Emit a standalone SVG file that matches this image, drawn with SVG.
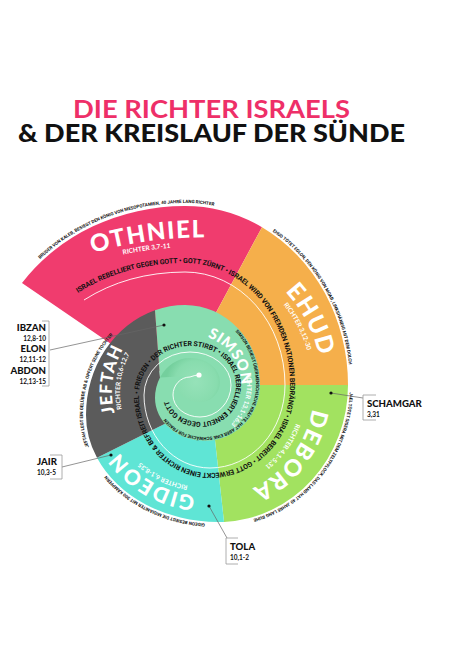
<svg xmlns="http://www.w3.org/2000/svg" width="450" height="650" viewBox="0 0 450 650">
<defs>
<style>
.ring{font-family:Roboto,'Liberation Sans',sans-serif;font-weight:700;font-size:7px;fill:#111;letter-spacing:-0.1px}
.desc{font-family:Roboto,'Liberation Sans',sans-serif;font-weight:700;font-size:4.5px;fill:#111}
.name{font-family:Lato,'Liberation Sans',sans-serif;font-weight:900;fill:#fff}
.ref{font-family:Lato,'Liberation Sans',sans-serif;font-weight:700;fill:#fff;font-size:6.5px}
.side{font-family:Lato,'Liberation Sans',sans-serif;font-weight:900;fill:#111;font-size:9.6px}
.num{font-family:Lato,'Liberation Sans',sans-serif;font-weight:700;fill:#111;font-size:6.5px}
.br{fill:none;stroke:#999;stroke-width:0.8}
.con{fill:none;stroke:#666;stroke-width:0.7}
</style>
<path id="ringPath" d="M 78 293 A 163 122 0 0 1 185 263 A 105 122 0 0 1 290 385 A 80 88 0 0 1 210 473 A 71 78 0 0 1 139 395 A 51 49 0 0 1 190 346 A 46 39 0 0 1 236 385 A 36 37 0 0 1 200 422 A 32 27 0 0 1 168 395 A 22 23 0 0 1 190 372"/>
<path id="pOthDesc" d="M 40 259 A 201 182 0 0 1 185 203 A 166 182 0 0 1 262.9 224.3"/>
<path id="pEhudDesc" d="M 272.4 231.5 A 165 181 0 0 1 349.9 378.7"/>
<path id="pDebDesc" d="M 349.8 392.3 A 132 139 0 0 1 229.5 523.5"/>
<path id="pGidDesc" d="M 205 523.5 A 134 109 0 0 1 92.1 452.3"/>
<path id="pJefDesc" d="M 88.9 447.1 A 135 110 0 0 1 83 415 A 102 113 0 0 1 150.1 308.8"/>
<path id="pSimDesc" d="M 235.2 331.3 A 71 76 0 0 1 256 385 A 51 52 0 0 1 205 437 A 46 39 0 0 1 159 398"/>
<path id="pOth" d="M 60 264 A 400 400 0 0 1 240 239"/>
<path id="pOthR" d="M 60 273 A 400 400 0 0 1 240 248"/>
<path id="pEhud" d="M 263.6 272.8 A 137 137 0 0 1 322 385"/>
<path id="pEhudR" d="M 257.8 281 A 127 127 0 0 1 312 385"/>
<path id="pDeb" d="M 314 390 A 109 109 0 0 1 233.2 495.3"/>
<path id="pDebR" d="M 300.5 406.8 A 97 97 0 0 1 250.5 475.6"/>
<path id="pGid" d="M 205 496 A 106 106 0 0 1 113.2 443"/>
<path id="pGidR" d="M 205 487 A 97 97 0 0 1 128.6 449.7"/>
<path id="pJef" d="M 118.4 425 A 88 88 0 0 1 130.7 337.8"/>
<path id="pJefR" d="M 124.8 419.4 A 80 80 0 0 1 135.3 345"/>
<path id="pSim" d="M 207.4 337.1 A 51 51 0 0 1 241 385"/>
<path id="pSimR" d="M 246.1 375.1 A 57 57 0 0 1 231 424.6"/>
<radialGradient id="core" cx="196" cy="382" r="30" gradientUnits="userSpaceOnUse">
<stop offset="0" stop-color="#96e2b9"/>
<stop offset="0.7" stop-color="#88dcae"/>
<stop offset="1" stop-color="#74cf9d"/>
</radialGradient>
</defs>
<rect width="450" height="650" fill="#fff"/>

<g id="title">
<text x="211.5" y="118" text-anchor="middle" textLength="277" lengthAdjust="spacingAndGlyphs" style="font-family:Lato,'Liberation Sans',sans-serif;font-weight:700;font-size:24px;fill:#EE2F68">DIE RICHTER ISRAELS</text>
<text x="211.5" y="142" text-anchor="middle" textLength="387" lengthAdjust="spacingAndGlyphs" style="font-family:Lato,'Liberation Sans',sans-serif;font-weight:900;font-size:25px;fill:#111">&amp; DER KREISLAUF DER SÜNDE</text>
</g>

<g id="othniel">
<path d="M 22 283 A 198 179 0 0 1 185 206 A 163 179 0 0 1 262 227.2 L 216.2 312.2 L 185 385 L 110 343.2 Z" fill="#F03C6E"/>
<text class="name" font-size="24" letter-spacing="1.5"><textPath href="#pOth" startOffset="50%" text-anchor="middle">OTHNIEL</textPath></text>
<text class="ref"><textPath href="#pOthR" startOffset="49%" text-anchor="middle">RICHTER 3,7-11</textPath></text>
<text class="desc" font-size="4.3"><textPath href="#pOthDesc">BRUDER VON KALEB, BESIEGT DEN KÖNIG VON MESOPOTAMIEN, 40 JAHRE LANG RICHTER</textPath></text>
</g>

<g id="ehud">
<path d="M 262 227.2 A 163 179 0 0 1 348 385 L 260 385 L 185 385 L 216.2 312.2 Z" fill="#F5AF4B"/>
<text class="name" font-size="24" letter-spacing="1.5"><textPath href="#pEhud" startOffset="50%" text-anchor="middle">EHUD</textPath></text>
<text class="ref"><textPath href="#pEhudR" startOffset="50%" text-anchor="middle">RICHTER 3,12-30</textPath></text>
<text class="desc"><textPath href="#pEhudDesc">EHUD TÖTET EGLON, DEN KÖNIG VON MOAB, LINKSHÄNDIG MIT DEM DOLCH</textPath></text>
</g>

<g id="debora">
<path d="M 348 385 A 130 137 0 0 1 224 521.9 L 215 440 L 185 385 L 260 385 Z" fill="#A2E260"/>
<text class="name" font-size="23" letter-spacing="1.5"><textPath href="#pDeb" startOffset="50%" text-anchor="middle">DEBORA</textPath></text>
<text class="ref"><textPath href="#pDebR" startOffset="50%" text-anchor="middle">RICHTER 4,1-5,31</textPath></text>
<text class="desc"><textPath href="#pDebDesc">JAEL TÖTET SISERA MIT DEM ZELTPFLOCK, DAS LAND HAT 40 JAHRE LANG RUHE</textPath></text>
</g>

<g id="gideon">
<path d="M 224 521.9 A 130 137 0 0 1 218 522 A 132 107 0 0 1 97 457.8 L 165 423.8 L 185 385 L 215 440 Z" fill="#5FE5D5"/>
<text class="name" font-size="21" letter-spacing="1.5"><textPath href="#pGid" startOffset="50%" text-anchor="middle">GIDEON</textPath></text>
<text class="ref"><textPath href="#pGidR" startOffset="50%" text-anchor="middle">RICHTER 6,1-8,35</textPath></text>
<text class="desc"><textPath href="#pGidDesc">GIDEON BESIEGT DIE MIDIANITER MIT 300 KÄMPFERN</textPath></text>
</g>

<g id="jeftah">
<path d="M 97 457.8 A 132 107 0 0 1 86 415 A 99 110 0 0 1 155 310.2 L 160 377.4 L 185 385 L 165 423.8 Z" fill="#5B5B5B"/>
<text class="name" font-size="17" letter-spacing="1"><textPath href="#pJef" startOffset="50%" text-anchor="middle">JEFTAH</textPath></text>
<text class="ref" font-size="6"><textPath href="#pJefR" startOffset="50%" text-anchor="middle">RICHTER 10,6-12,7</textPath></text>
<text class="desc"><textPath href="#pJefDesc">JEFTAH LEGT EIN GELÜBDE AB &amp; OPFERT SEINE TOCHTER</textPath></text>
</g>

<g id="simson">
<path d="M 155 310.2 A 99 110 0 0 1 185 305 A 75 80 0 0 1 260 385 A 55 56 0 0 1 205 441 A 50 43 0 0 1 155 398 A 35 40 0 0 1 160 377.4 Z" fill="#88DDB0"/>
<path d="M 160 377.4 A 35 40 0 0 1 190 358 A 30 24 0 0 1 220 382 A 20 20 0 0 1 200 402 A 22 14 0 0 1 178 388 A 12 12 0 0 1 190 376 Z" fill="url(#core)"/>
<text class="name" font-size="15" letter-spacing="0.5"><textPath href="#pSim" startOffset="50%" text-anchor="middle">SIMSON</textPath></text>
<text class="ref" font-size="5.5"><textPath href="#pSimR" startOffset="50%" text-anchor="middle">RICHTER 13,1-16,31</textPath></text>
<text class="desc" font-size="4.2"><textPath href="#pSimDesc">SIMSON BESIEGT ÜBERMENSCHLICHE KRÄFTE, HAT ABER EINE SCHWÄCHE FÜR FRAUEN</textPath></text>
</g>

<g id="cycle">
<path d="M 84 300 A 155 113 0 0 1 185 272 A 100 113 0 0 1 285 385 A 75 83 0 0 1 210 468 A 66 73 0 0 1 144 395 A 46 43 0 0 1 190 352 A 41 33 0 0 1 231 385 A 31 32 0 0 1 200 417 A 27 22 0 0 1 173 395 A 17 18 0 0 1 190 377 Q 195 375 199 375" fill="none" stroke="#fff" stroke-width="0.9"/>
<circle cx="199" cy="375" r="2.6" fill="#fff"/>
<text class="ring"><textPath href="#ringPath">ISRAEL REBELLIERT GEGEN GOTT • GOTT ZÜRNT • ISRAEL WIRD VON FREMDEN NATIONEN BEDRÄNGT • ISRAEL BEREUT • GOTT ERWECKT EINEN RICHTER &amp; BEFREIT ISRAEL • FRIEDEN • DER RICHTER STIRBT • ISRAEL REBELLIERT ERNEUT GEGEN GOTT</textPath></text>
</g>

<g id="connectors">
<path class="con" d="M 50 350 L 164 325"/>
<path class="con" d="M 62 467 L 111 455"/>
<path class="con" d="M 209 506 L 227 538"/>
<path class="con" d="M 331 393 L 363 398"/>
<circle cx="164" cy="325" r="1.6" fill="#111"/>
<circle cx="111" cy="455" r="1.6" fill="#111"/>
<circle cx="209" cy="506" r="1.6" fill="#111"/>
<circle cx="331" cy="393" r="1.6" fill="#111"/>
</g>

<g id="ibzan-elon-abdon">
<path class="br" d="M 42 321 H 49 V 386 H 42"/>
<text class="side" x="46" y="330.5" text-anchor="end">IBZAN</text>
<text class="num" x="46" y="340.5" text-anchor="end">12,8-10</text>
<text class="side" x="46" y="352" text-anchor="end">ELON</text>
<text class="num" x="46" y="362" text-anchor="end">12,11-12</text>
<text class="side" x="46" y="373.5" text-anchor="end">ABDON</text>
<text class="num" x="46" y="383.5" text-anchor="end">12,13-15</text>
</g>

<g id="jair">
<path class="br" d="M 50 455 H 62 V 479 H 50"/>
<text class="side" x="37" y="465">JAIR</text>
<text class="num" x="37" y="475">10,3-5</text>
</g>

<g id="tola">
<path class="br" d="M 238 538 H 226 V 564 H 238"/>
<text class="side" x="230" y="550">TOLA</text>
<text class="num" x="230" y="560">10,1-2</text>
</g>

<g id="schamgar">
<path class="br" d="M 376 395 H 363 V 420 H 376"/>
<text class="side" x="367" y="407">SCHAMGAR</text>
<text class="num" x="367" y="417">3,31</text>
</g>
</svg>
